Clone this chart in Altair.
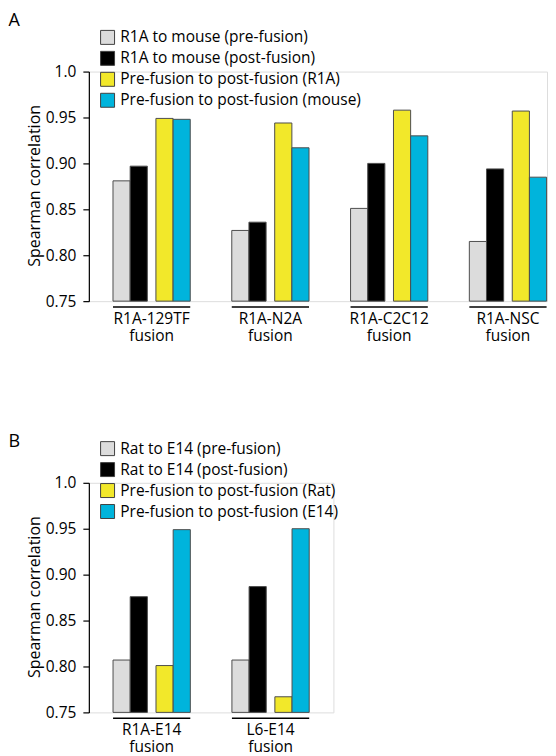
import altair as alt
import pandas as pd

# ---------------- data ----------------
A_GROUPS = ["R1A-129TF fusion", "R1A-N2A fusion", "R1A-C2C12 fusion", "R1A-NSC fusion"]
A_SERIES = ["R1A to mouse (pre-fusion)", "R1A to mouse (post-fusion)",
            "Pre-fusion to post-fusion (R1A)", "Pre-fusion to post-fusion (mouse)"]
A_PRE = [0.881, 0.827, 0.851, 0.815]
A_POST = [0.897, 0.836, 0.900, 0.894]
A_SELF = [0.949, 0.944, 0.958, 0.957]
A_OTHER = [0.948, 0.917, 0.930, 0.885]

B_GROUPS = ["R1A-E14 fusion", "L6-E14 fusion"]
B_SERIES = ["Rat to E14 (pre-fusion)", "Rat to E14 (post-fusion)",
            "Pre-fusion to post-fusion (Rat)", "Pre-fusion to post-fusion (E14)"]
B_PRE = [0.807, 0.807]
B_POST = [0.876, 0.887]
B_SELF = [0.801, 0.767]
B_OTHER = [0.949, 0.950]

Y_TICKS = [0.75, 0.80, 0.85, 0.90, 0.95, 1.0]
Y_DOMAIN = [0.75, 1.0]

# ---------------- style ----------------
COLORS = ["#dcdcdc", "#000000", "#f2e82a", "#00b4dc"]
FONT = "Open Sans"
FS = 15.5
SLOT = 8.6                  # offset-band slot width (px)
BAR_W = 2 * SLOT            # each bar spans two slots
STEP = 119.0                # distance between groups (px)
BAND = 8 * SLOT
PAD_INNER = 1 - BAND / STEP
PLOT_H = 230
SPACING = 88
LETTER_X = -80.4


def long_table(groups, series, cols):
    rows = []
    for gi, g in enumerate(groups):
        for s, col in zip(series, cols):
            rows.append({"group": g, "series": s, "value": col[gi]})
    return pd.DataFrame(rows)


def panel(letter, groups, series, cols, width, pad_outer, align, letter_y):
    df = long_table(groups, series, cols)
    offset_domain = [series[0], "_g1", series[1], "_g2", "_g3", series[2], "_g4", series[3]]

    x = alt.X(
        "group:N", sort=groups, title=None,
        scale=alt.Scale(domain=groups, paddingInner=PAD_INNER,
                        paddingOuter=pad_outer, align=align),
        axis=alt.Axis(domain=False, ticks=False, tickSize=0, labelAngle=0,
                      labelFont=FONT, labelFontSize=FS, labelColor="black",
                      labelPadding=10, labelLineHeight=17,
                      labelExpr="split(datum.label, ' ')"),
    )
    y = alt.Y(
        "value:Q",
        scale=alt.Scale(domain=Y_DOMAIN, zero=False, nice=False),
        axis=alt.Axis(values=Y_TICKS, grid=False,
                      labelExpr="datum.value == 1 ? '1.0' : format(datum.value, '.2f')",
                      labelFont=FONT, labelFontSize=FS, labelColor="black",
                      labelPadding=7, tickSize=6, tickColor="black", tickWidth=1.2,
                      domainColor="black", domainWidth=1.2,
                      title="Spearman correlation", titleFont=FONT,
                      titleFontSize=16, titleFontWeight="normal", titleColor="black",
                      titleAngle=-90, titleX=-54, titleY=PLOT_H / 2 - 1,
                      titleAlign="center", titleBaseline="middle"),
    )

    bars = alt.Chart(df).mark_bar(width=BAR_W, stroke="#4d4d4d", strokeWidth=1).encode(
        x=x,
        xOffset=alt.XOffset("series:N", scale=alt.Scale(domain=offset_domain,
                                                        paddingInner=0, paddingOuter=0)),
        y=y,
        y2=alt.datum(Y_DOMAIN[0]),
        fill=alt.Fill("series:N",
                      scale=alt.Scale(domain=series, range=COLORS),
                      legend=alt.Legend(title=None, orient="none", direction="vertical",
                                        legendX=11, legendY=-42, padding=0,
                                        symbolType="square", symbolSize=196,
                                        symbolStrokeColor="#404040", symbolStrokeWidth=1,
                                        labelFont=FONT, labelFontSize=FS,
                                        labelColor="black", labelOffset=5,
                                        rowPadding=2, labelLimit=400)),
    )

    under = alt.Chart(pd.DataFrame({"group": groups})).mark_bar(
        width=9 * SLOT, color="black"
    ).encode(
        x=x,
        y=alt.value(PLOT_H + 5),
        y2=alt.value(PLOT_H + 6.6),
    )

    tag = alt.Chart(pd.DataFrame({"letter": [letter]})).mark_text(
        align="left", baseline="top", fontSize=18, font=FONT, color="black"
    ).encode(
        text="letter:N",
        x=alt.value(LETTER_X),
        y=alt.value(letter_y),
    )

    return alt.layer(bars, under, tag).properties(width=width, height=PLOT_H)


chart_a = panel("A", A_GROUPS, A_SERIES, [A_PRE, A_POST, A_SELF, A_OTHER],
                width=459, pad_outer=0.1395, align=0.858, letter_y=-60)
chart_b = panel("B", B_GROUPS, B_SERIES, [B_PRE, B_POST, B_SELF, B_OTHER],
                width=245, pad_outer=0.2395, align=0.5, letter_y=-50)

chart = alt.vconcat(chart_a, chart_b, spacing=SPACING).resolve_scale(
    x="independent", y="independent", xOffset="independent", fill="independent"
).properties(
    padding={"left": 0, "top": 2, "right": 0, "bottom": 0}
).configure_view(stroke=None).configure(background="white")

chart.save("out.html", embed_options={"renderer": "svg", "actions": False})
